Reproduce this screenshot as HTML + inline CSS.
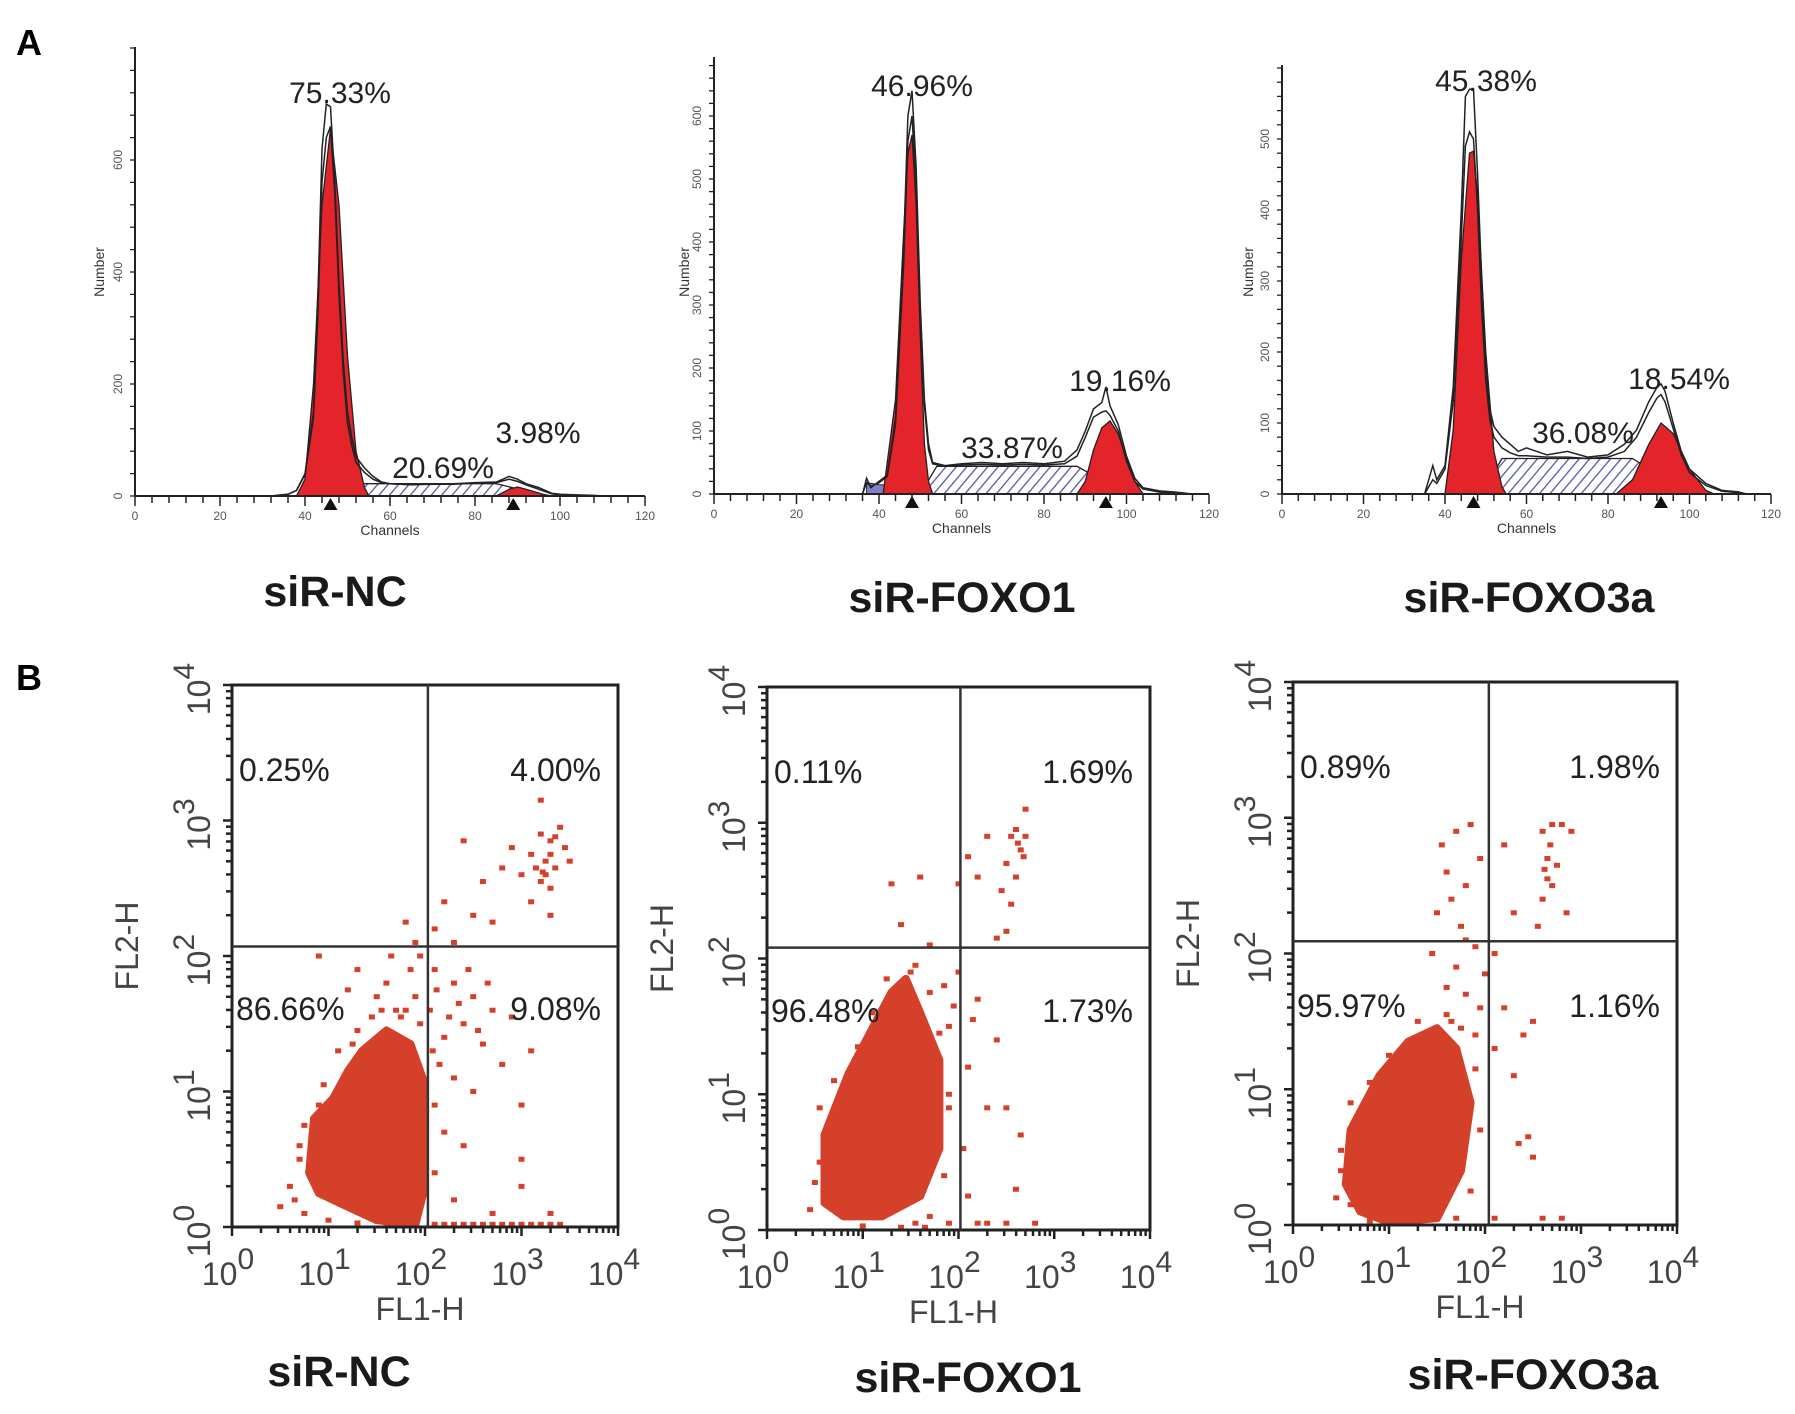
<!DOCTYPE html>
<html><head><meta charset="utf-8"><style>
html,body{margin:0;padding:0;background:#fff;}
svg{display:block;font-family:"Liberation Sans",Arial,sans-serif;}
</style></head><body>
<svg id="fig" xmlns="http://www.w3.org/2000/svg" width="1795" height="1414" viewBox="0 0 1795 1414">
<defs>
<pattern id="hatch" patternUnits="userSpaceOnUse" width="8" height="8" patternTransform="rotate(40)">
<rect width="8" height="8" fill="#fff"/><line x1="0" y1="0" x2="0" y2="8" stroke="#5656a8" stroke-width="2.6"/>
</pattern>
</defs>
<text x="16" y="55" font-size="36" font-weight="bold">A</text>
<text x="16" y="690" font-size="36" font-weight="bold">B</text>
<g id="histos"></g>
<g id="scatters"></g>
</svg>
<script>
const NS="http://www.w3.org/2000/svg";
// ---------- Histogram data (channel, count) ----------
const h1Channels=[32,36,38,40,42,43,44,45,46,47,48,49,50,51,52,54,56,58,60,65,70,75,80,85,88,90,92,95,98,100,104,108,110];
const h1Raw=[0,3,10,40,150,350,620,700,695,560,380,240,150,105,70,50,35,25,22,20,22,22,24,25,35,30,22,15,5,3,2,1,0];
const h1Model=[0,3,10,38,140,320,560,640,660,540,360,220,130,90,60,42,30,24,22,20,21,21,23,24,30,26,20,12,4,2,1,0,0];
const h1G1Ch=[38,40,42,44,46,48,50,52,54,55];
const h1G1=[0,30,200,520,656,520,250,80,15,0];
const h1SCh=[45,50,85,97];
const h1S=[0,22,22,0];
const h1G2Ch=[85,88,90,92,96,98];
const h1G2=[0,12,16,12,3,0];
const h1Debris=[];const h1DebrisCh=[];

const h2Channels=[36,37,38,40,42,44,46,47,48,49,50,51,52,53,56,60,65,70,75,80,85,88,90,92,94,95,96,98,100,102,104,108,112,116];
const h2Raw=[0,25,10,20,30,120,400,600,640,520,300,150,80,50,45,48,50,48,50,48,52,70,100,135,145,170,140,110,60,25,10,5,3,0];
const h2Model=[0,18,12,18,28,110,370,560,600,490,280,140,70,48,44,46,47,46,47,46,48,60,90,122,130,132,125,100,52,20,8,3,1,0];
const h2G1Ch=[41,44,46,47,48,49,50,51,52,53];
const h2G1=[0,150,420,540,570,460,250,80,20,0];
const h2SCh=[50,54,88,100];
const h2S=[0,44,44,0];
const h2G2Ch=[88,90,92,94,96,98,100,102,104];
const h2G2=[0,20,70,105,116,95,55,20,0];
const h2DebrisCh=[37,40,45,50,55,60,70,85];
const h2Debris=[18,15,12,8,5,3,2,0];

const h3Channels=[35,37,38,40,42,44,45,46,47,48,49,50,51,52,54,56,58,60,65,70,75,80,84,87,90,92,93,94,96,98,100,104,108,112,114];
const h3Raw=[0,40,20,40,150,400,560,570,570,450,300,180,120,95,80,70,60,65,55,60,52,55,70,90,130,150,155,145,100,60,35,15,5,3,0];
const h3Model=[0,20,15,35,130,360,490,510,500,400,260,160,105,80,65,58,54,54,52,52,50,52,60,80,115,135,140,130,92,55,30,12,4,2,0];
const h3G1Ch=[40,42,44,46,47,48,50,52,54,55];
const h3G1=[0,90,330,480,483,420,200,60,10,0];
const h3SCh=[49,54,86,100];
const h3S=[0,50,50,0];
const h3G2Ch=[82,86,90,93,96,100,104,106];
const h3G2=[0,20,70,100,85,35,5,0];
const h3DebrisCh=[];const h3Debris=[];

const hTickLabels1=[0,200,400,600];
const hTickLabels2=[0,100,200,300,400,500,600];
const hTickLabels3=[0,100,200,300,400,500];
const xTickLabels=[0,20,40,60,80,100,120];
const hPercents1=["75.33%","20.69%","3.98%"];
const hPercents2=["46.96%","33.87%","19.16%"];
const hPercents3=["45.38%","36.08%","18.54%"];
const groupNames=["siR-NC","siR-FOXO1","siR-FOXO3a"];

function el(tag,attrs,parent){const e=document.createElementNS(NS,tag);for(const k in attrs)e.setAttribute(k,attrs[k]);if(parent)parent.appendChild(e);return e;}
function tx(parent,x,y,s,size,extra){const t=el('text',Object.assign({x:x,y:y,'font-size':size},extra||{}),parent);t.textContent=s;return t;}

const hPanels=[
 {x0:135,x1:645,base:496,ppu:0.56,top:47,ticks:hTickLabels1,minor:40,raw:h1Raw,model:h1Model,ch:h1Channels,g1c:h1G1Ch,g1:h1G1,sc:h1SCh,s:h1S,g2c:h1G2Ch,g2:h1G2,dc:h1DebrisCh,d:h1Debris,pct:hPercents1,
  pctPos:[[340,92],[443,467],[538,432]],g1m:46,g2m:89,numX:99,title:[335,604]},
 {x0:714,x1:1209,base:494,ppu:0.63,top:57,ticks:hTickLabels2,minor:20,raw:h2Raw,model:h2Model,ch:h2Channels,g1c:h2G1Ch,g1:h2G1,sc:h2SCh,s:h2S,g2c:h2G2Ch,g2:h2G2,dc:h2DebrisCh,d:h2Debris,pct:hPercents2,
  pctPos:[[922,85],[1012,447],[1120,380]],g1m:48,g2m:95,numX:684,title:[962,610]},
 {x0:1282,x1:1771,base:494,ppu:0.71,top:65,ticks:hTickLabels3,minor:20,raw:h3Raw,model:h3Model,ch:h3Channels,g1c:h3G1Ch,g1:h3G1,sc:h3SCh,s:h3S,g2c:h3G2Ch,g2:h3G2,dc:h3DebrisCh,d:h3Debris,pct:hPercents3,
  pctPos:[[1486,80],[1583,432],[1679,378]],g1m:47,g2m:93,numX:1248,title:[1529,610]}
];
const hg=document.getElementById('histos');
hPanels.forEach((p,i)=>{
 const g=el('g',{},hg);
 
 
 const X=c=>p.x0+(p.x1-p.x0)*c/120;
 const Y=v=>p.base-v*p.ppu;
 const poly=(cs,vs)=>cs.map((c,k)=>X(c).toFixed(1)+','+Y(vs[k]).toFixed(1)).join(' ');
 if(p.dc.length){const d=el('polygon',{points:poly(p.dc,p.d)+' '+X(p.dc[p.dc.length-1])+','+p.base+' '+X(p.dc[0])+','+p.base,fill:'#8080c8',stroke:'#222','stroke-width':1},g);
  }
 const s=el('polygon',{points:poly(p.sc,p.s),fill:'url(#hatch)',stroke:'#222','stroke-width':1.3},g);
 
 const g1=el('polygon',{points:poly(p.g1c,p.g1),fill:'#e3242b',stroke:'#222','stroke-width':1.3},g);
 
 const g2=el('polygon',{points:poly(p.g2c,p.g2),fill:'#e3242b',stroke:'#222','stroke-width':1.3},g);
 
 const m=el('polyline',{points:poly(p.ch,p.model),fill:'none',stroke:'#222','stroke-width':1.5},g);
 
 const r=el('polyline',{points:poly(p.ch,p.raw),fill:'none',stroke:'#222','stroke-width':1.5},g);
 
 el('line',{x1:p.x0,y1:p.top,x2:p.x0,y2:p.base,stroke:'#222','stroke-width':2},g);
 el('line',{x1:p.x0,y1:p.base,x2:p.x1,y2:p.base,stroke:'#222','stroke-width':2},g);
 for(let v=0;Y(v)>=p.top;v+=p.minor){el('line',{x1:p.x0-5,y1:Y(v),x2:p.x0,y2:Y(v),stroke:'#222','stroke-width':1.3},g);}
 p.ticks.forEach(v=>{const t=tx(g,0,0,String(v),12,{fill:'#555','text-anchor':'middle',transform:`translate(${p.x0-13},${Y(v)}) rotate(-90)`});
  });
 for(let c=0;c<=120;c+=4){el('line',{x1:X(c),y1:p.base,x2:X(c),y2:p.base+(c%20===0?10:7),stroke:'#222','stroke-width':1.5},g);}
 xTickLabels.forEach(c=>{const t=tx(g,X(c),p.base+24,String(c),12,{fill:'#555','text-anchor':'middle'});
  });
 const xt=tx(g,X(60),p.base+39,'Channels',14,{fill:'#333','text-anchor':'middle'});
 
 const yt=tx(g,0,0,'Number',14,{fill:'#333','text-anchor':'middle',transform:`translate(${p.numX+5},272) rotate(-90)`});
 
 [p.g1m,p.g2m].forEach(c=>{const mk=el('polygon',{points:`${X(c)-7},${p.base+14} ${X(c)+7},${p.base+14} ${X(c)},${p.base+2}`,fill:'#111'},g);
  });
 p.pct.forEach((s,k)=>{const t=tx(g,p.pctPos[k][0],p.pctPos[k][1]+11,s,30,{fill:'#222','text-anchor':'middle'});
  });
 const tt=tx(g,p.title[0],p.title[1]+2,groupNames[i],43,{'font-weight':'bold','text-anchor':'middle',fill:'#1a1a1a'});
 
});

// ---------- Scatter data (log10 FL1, log10 FL2) ----------
const s1Blob=[[0.8,0.4],[0.85,0.8],[1.05,0.95],[1.2,1.15],[1.35,1.3],[1.6,1.45],[1.85,1.35],[2.0,1.05],[2.0,0.3],[1.9,0.02],[1.5,0.05],[1.2,0.15],[0.9,0.25]];
const s1Points=[[3.2,2.9],[3.3,2.85],[3.4,2.95],[3.25,2.7],[3.35,2.65],[3.1,2.75],[3.45,2.8],[3.2,2.55],[3.3,2.5],[3.5,2.7],[2.9,2.8],[2.8,2.65],[3.0,2.6],[2.6,2.55],[2.4,2.85],[2.2,2.4],[2.5,2.3],[2.1,2.2],[2.7,2.25],[3.1,2.4],[3.3,2.3],[2.3,2.1],[1.9,2.1],[1.8,2.25],[3.25,2.6],[3.15,2.65],[3.2,3.15],[3.3,2.75],[3.22,2.62],[3.35,2.88],
[2.1,1.9],[2.3,1.8],[2.5,1.7],[2.7,1.6],[2.9,1.55],[2.4,1.5],[2.2,1.4],[2.6,1.35],[2.8,1.2],[3.1,1.3],[2.3,1.1],[2.5,1.0],[2.1,0.9],[2.2,0.7],[2.4,0.6],[3.0,0.9],[3.0,0.5],[3.0,0.3],[2.1,0.4],[2.3,0.2],[3.3,0.1],[2.7,0.1],[2.05,1.6],[2.15,1.2],[2.25,1.55],[2.45,1.9],[2.65,1.8],[2.08,1.3],[2.12,1.75],[2.35,1.65],[2.55,1.45],
[1.7,1.6],[1.9,1.7],[1.6,1.8],[1.5,1.7],[1.3,1.9],[1.2,1.75],[0.9,2.0],[1.85,1.9],[1.95,1.5],[0.6,0.3],[0.5,0.15],[0.7,0.5],[0.75,0.1],[1.75,1.55],[1.65,2.0],[1.95,2.0],[1.45,1.55],[1.3,1.45],[1.1,1.3],[0.95,1.05],[0.75,0.75],[0.7,0.6],[0.65,0.2],[1.0,0.05],[1.3,0.03],[1.6,0.03],[1.8,1.6],[1.55,1.6],[1.25,1.35],[0.9,0.9],
[2.2,0.02],[2.4,0.02],[2.6,0.02],[2.8,0.02],[3.0,0.02],[3.2,0.02],[3.4,0.02],[2.1,0.02],[2.5,0.02],[2.9,0.02],[3.1,0.02],[3.3,0.02],[2.3,0.02],[2.7,0.02]];
const s2Blob=[[0.6,0.2],[0.6,0.7],[0.85,1.15],[1.15,1.55],[1.3,1.75],[1.45,1.85],[1.6,1.6],[1.8,1.25],[1.8,0.6],[1.6,0.25],[1.2,0.1],[0.8,0.1]];
const s2Points=[[2.6,2.95],[2.7,2.9],[2.65,2.8],[2.5,2.7],[2.55,2.4],[2.5,2.2],[2.4,2.15],[2.2,2.6],[2.0,2.55],[1.6,2.6],[1.4,2.25],[2.1,2.75],[2.3,2.9],[1.5,1.9],[2.2,1.7],[2.4,1.4],[2.1,1.2],[1.9,1.0],[2.5,0.9],[2.6,0.3],[2.1,0.25],[1.9,0.05],[2.3,0.05],[2.8,0.05],[1.7,2.1],[2.0,1.9],[1.8,1.45],[2.65,0.7],[2.6,2.6],[2.7,3.1],[2.55,2.9],[2.45,2.5],[1.3,2.55],[2.15,1.55],[2.3,0.9],[2.05,0.6],[1.95,1.65],[1.85,1.8],[0.5,0.35],[0.45,0.15],[2.2,0.05],[2.5,0.05],
[0.55,0.5],[0.55,0.9],[0.7,1.1],[0.95,1.35],[1.1,1.6],[1.25,1.85],[1.55,1.95],[1.7,1.75],[1.9,1.5],[1.9,0.9],[1.85,0.4],[1.7,0.1],[1.4,0.02],[1.0,0.03],[0.7,0.15],[1.65,0.02],[1.55,0.05],[2.62,2.85],[2.68,2.75]];
const s3Blob=[[0.55,0.3],[0.6,0.7],[0.9,1.1],[1.2,1.35],[1.5,1.45],[1.7,1.3],[1.85,0.9],[1.75,0.4],[1.5,0.05],[1.0,0.02],[0.7,0.1]];
const s3Points=[[1.55,2.8],[1.7,2.9],[1.85,2.95],[1.6,2.6],[1.8,2.5],[1.95,2.7],[1.5,2.3],[1.75,2.2],[2.6,2.9],[2.7,2.95],[2.8,2.95],[2.65,2.7],[2.7,2.5],[2.6,2.4],[2.55,2.2],[2.9,2.9],[2.2,2.8],[2.3,2.3],[2.85,2.3],[2.1,2.0],[2.2,1.6],[2.4,1.4],[2.1,1.3],[2.3,1.1],[1.7,1.9],[1.8,1.7],[1.95,1.6],[1.6,1.75],[2.5,1.5],[2.35,0.6],[2.5,0.5],[2.6,0.05],[2.8,0.05],[2.1,0.05],[2.75,2.65],[2.65,2.55],[1.9,2.05],[1.65,1.5],[2.0,1.85],[1.45,2.0],[2.45,0.65],[0.5,0.4],[0.45,0.2],[1.9,1.4],
[0.5,0.55],[0.6,0.9],[0.8,1.05],[1.0,1.25],[1.3,1.5],[1.6,1.55],[1.75,1.45],[1.9,1.15],[1.95,0.7],[1.85,0.25],[1.7,0.05],[1.3,0.02],[0.8,0.03],[0.6,0.15],[2.68,2.8],[2.62,2.62],[1.65,2.4],[1.8,2.1]];
const quadPercents1=["0.25%","4.00%","86.66%","9.08%"];
const quadPercents2=["0.11%","1.69%","96.48%","1.73%"];
const quadPercents3=["0.89%","1.98%","95.97%","1.16%"];
const gateX=[2.03,2.02,2.04];
const gateY=[2.07,2.08,2.09];
const decadeLabels=["0","1","2","3","4"];

const sPanels=[
 {l:232,r:618,t:685,b:1227,blob:s1Blob,pts:s1Points,pct:quadPercents1,title:[339,1372]},
 {l:767,r:1150,t:687,b:1230,blob:s2Blob,pts:s2Points,pct:quadPercents2,title:[968,1378]},
 {l:1293,r:1677,t:682,b:1225,blob:s3Blob,pts:s3Points,pct:quadPercents3,title:[1533,1375]}
];
const sg=document.getElementById('scatters');
sPanels.forEach((p,i)=>{
 const g=el('g',{},sg);
 
 
 const X=v=>p.l+(p.r-p.l)*v/4;
 const Y=v=>p.b-(p.b-p.t)*v/4;
 const blob=el('polygon',{points:p.blob.map(q=>X(q[0]).toFixed(1)+','+Y(q[1]).toFixed(1)).join(' '),fill:'#d4402a',stroke:'#d4402a','stroke-width':8,'stroke-linejoin':'round'},g);
 
 p.pts.forEach(q=>{const d=el('rect',{x:X(q[0])-3,y:Y(q[1])-2.5,width:6,height:5,fill:'#d4402a'},g);
  });
 el('rect',{x:p.l,y:p.t,width:p.r-p.l,height:p.b-p.t,fill:'none',stroke:'#222','stroke-width':3},g);
 const vx=el('line',{x1:X(gateX[i]),y1:p.t,x2:X(gateX[i]),y2:p.b,stroke:'#333','stroke-width':2.5},g);
 
 const hy=el('line',{x1:p.l,y1:Y(gateY[i]),x2:p.r,y2:Y(gateY[i]),stroke:'#333','stroke-width':2.5},g);
 
 for(let d=0;d<4;d++){for(let k=1;k<10;k++){const f=d+Math.log10(k);const len=k===1?9:6;
   el('line',{x1:X(f),y1:p.b,x2:X(f),y2:p.b+len,stroke:'#222','stroke-width':2.5},g);
   el('line',{x1:p.l-len,y1:Y(f),x2:p.l,y2:Y(f),stroke:'#222','stroke-width':2.5},g);}}
 el('line',{x1:X(4),y1:p.b,x2:X(4),y2:p.b+9,stroke:'#222','stroke-width':2.5},g);
 el('line',{x1:p.l-9,y1:Y(4),x2:p.l,y2:Y(4),stroke:'#222','stroke-width':2.5},g);
 decadeLabels.forEach((s,k)=>{
  const t=el('text',{x:X(k)-4,y:p.b+58,'font-size':32,fill:'#444','text-anchor':'middle'},g);
  
  t.textContent='10';const sp=el('tspan',{dy:-16,'font-size':30},t);sp.textContent=s;
  const t2=el('text',{x:0,y:0,'font-size':32,fill:'#444','text-anchor':'middle',transform:`translate(${p.l-22},${Y(k)+4}) rotate(-90)`},g);
  
  t2.textContent='10';const sp2=el('tspan',{dy:-16,'font-size':30},t2);sp2.textContent=s;
 });
 const xt=tx(g,(p.l+p.r)/2-5,p.b+93,'FL1-H',32,{fill:'#444','text-anchor':'middle'});
 
 const yt=tx(g,0,0,'FL2-H',32,{fill:'#444','text-anchor':'middle',transform:`translate(${p.l-94},${(p.t+p.b)/2-10}) rotate(-90)`});
 
 const pos=[[p.l+7,p.t+96,'start'],[p.r-17,p.t+96,'end'],[p.l+4,p.t+335,'start'],[p.r-17,p.t+335,'end']];
 p.pct.forEach((s,k)=>{const t=tx(g,pos[k][0],pos[k][1],s,32,{fill:'#222','text-anchor':pos[k][2]});
  });
 const tt=tx(g,p.title[0],p.title[1]+14,groupNames[i],43,{'font-weight':'bold','text-anchor':'middle',fill:'#1a1a1a'});
 
});
</script>
</body></html>
